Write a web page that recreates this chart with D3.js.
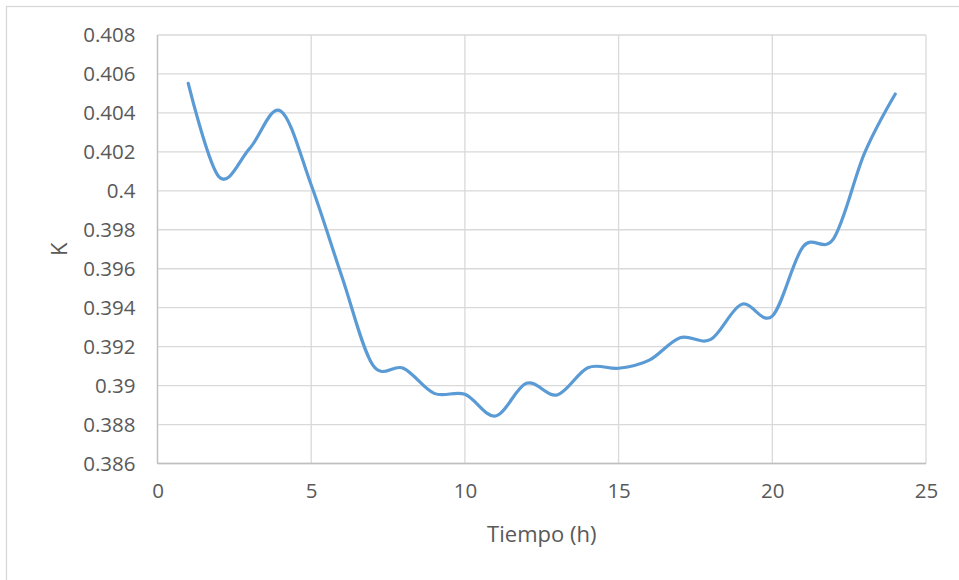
<!DOCTYPE html>
<html>
<head>
<meta charset="utf-8">
<script src="https://cdn.jsdelivr.net/npm/d3@7"></script>
<style>
  html, body { margin: 0; padding: 0; background: #fff; }
  svg { display: block; }
  text { font-family: "Open Sans", Lato, sans-serif; fill: #595959; }
</style>
</head>
<body>
<svg id="chart" width="959" height="580"></svg>
<script>
// Hourly K values
const hours = [1, 2, 3, 4, 5, 6, 7, 8, 9, 10, 11, 12, 13, 14, 15, 16, 17, 18, 19, 20, 21, 22, 23, 24];
const kValues = [0.40552, 0.40072, 0.40218, 0.40411, 0.40030, 0.39559, 0.39106, 0.39089,
                 0.38960, 0.38955, 0.38844, 0.39012, 0.38952, 0.39092, 0.39089, 0.39131,
                 0.39246, 0.39237, 0.39417, 0.39357, 0.39713, 0.39756, 0.40193, 0.40497];
const xTicks = [0, 5, 10, 15, 20, 25];
const yTicks = [0.386, 0.388, 0.39, 0.392, 0.394, 0.396, 0.398, 0.4, 0.402, 0.404, 0.406, 0.408];
const xTitle = "Tiempo (h)";
const yTitle = "K";

const svg = d3.select("#chart");
const W = 959, H = 580;
const plot = { left: 157.5, right: 926, top: 35, bottom: 463.5 };
const fontFamily = "'Open Sans', Lato, sans-serif";

// chart frame
svg.append("rect")
  .attr("x", 6.5).attr("y", 6.5)
  .attr("width", W + 20).attr("height", H + 20)
  .attr("fill", "#fff").attr("stroke", "#D9D9D9").attr("stroke-width", 1.3);

const x = d3.scaleLinear().domain([0, 25]).range([plot.left, plot.right]);
const y = d3.scaleLinear().domain([0.386, 0.408]).range([plot.bottom, plot.top]);

// horizontal gridlines
svg.append("g")
  .selectAll("line").data(yTicks).join("line")
  .attr("x1", plot.left).attr("x2", plot.right)
  .attr("y1", d => y(d)).attr("y2", d => y(d))
  .attr("stroke", "#D9D9D9").attr("stroke-width", 1.3);

// vertical gridlines
svg.append("g")
  .selectAll("line").data(xTicks).join("line")
  .attr("x1", d => x(d)).attr("x2", d => x(d))
  .attr("y1", plot.top).attr("y2", plot.bottom)
  .attr("stroke", "#D9D9D9").attr("stroke-width", 1.3);

// axis lines
svg.append("line")
  .attr("x1", plot.left).attr("x2", plot.right)
  .attr("y1", plot.bottom).attr("y2", plot.bottom)
  .attr("stroke", "#BFBFBF").attr("stroke-width", 1.3);
svg.append("line")
  .attr("x1", plot.left).attr("x2", plot.left)
  .attr("y1", plot.top).attr("y2", plot.bottom)
  .attr("stroke", "#BFBFBF").attr("stroke-width", 1.3);

// tick labels via d3 axes (no tick marks / domain)
const yAxis = svg.append("g")
  .attr("transform", `translate(${plot.left},0)`)
  .call(d3.axisLeft(y).tickValues(yTicks).tickSize(0).tickPadding(22)
    .tickFormat(d => d3.format("")(+d.toFixed(3))));
yAxis.select(".domain").remove();
yAxis.selectAll("text").style("font-size", "20.5px").attr("fill", "#595959")
  .style("font-family", fontFamily);

const xAxis = svg.append("g")
  .attr("transform", `translate(0,${plot.bottom})`)
  .call(d3.axisBottom(x).tickValues(xTicks).tickSize(0).tickPadding(20));
xAxis.select(".domain").remove();
xAxis.selectAll("text").style("font-size", "20.5px").attr("fill", "#595959")
  .style("font-family", fontFamily);

// data line
const line = d3.line()
  .x((d, i) => x(hours[i]))
  .y(d => y(d))
  .curve(d3.curveCardinal.tension(0));
svg.append("path")
  .datum(kValues)
  .attr("d", line)
  .attr("fill", "none")
  .attr("stroke", "#5B9BD5")
  .attr("stroke-width", 3.2)
  .attr("stroke-linecap", "round")
  .attr("stroke-linejoin", "round");

// axis titles
svg.append("text")
  .attr("x", (plot.left + plot.right) / 2).attr("y", 542)
  .attr("text-anchor", "middle")
  .style("font-size", "22px")
  .text(xTitle);
svg.append("text")
  .attr("transform", `translate(67,${(plot.top + plot.bottom) / 2}) rotate(-90)`)
  .attr("text-anchor", "middle")
  .style("font-size", "22px")
  .text(yTitle);
</script>
</body>
</html>
